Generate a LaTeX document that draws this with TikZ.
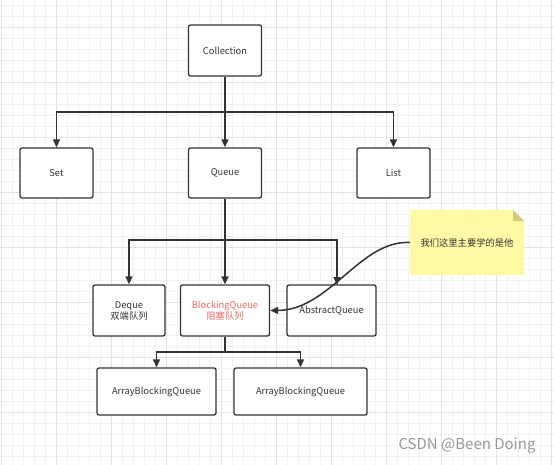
\documentclass[tikz,border=0pt]{standalone}
\usepackage{fontspec}
\setmainfont{Noto Sans CJK SC}
\usetikzlibrary{arrows.meta}
\definecolor{edge}{HTML}{333333}
\definecolor{txt}{HTML}{333333}
\definecolor{redtxt}{HTML}{EA6B66}
\definecolor{notefill}{HTML}{FFF9A6}
\definecolor{notefold}{HTML}{D2CC78}
\definecolor{gridminor}{HTML}{F1F1F1}
\definecolor{gridmajor}{HTML}{E4E4E4}
\tikzset{
  box/.style={draw=edge, line width=1.3pt, rounded corners=2pt, fill=white,
    text=txt, font=\fontsize{9.3}{11}\selectfont, align=center, inner sep=0pt},
  arr/.style={draw=edge, line width=1.3pt, -{Triangle[length=8pt,width=7pt]}},
  ln/.style={draw=edge, line width=1.3pt},
}
\begin{document}
\begin{tikzpicture}[x=1pt,y=-1pt]
\useasboundingbox (0,0) rectangle (554,465);
\fill[white] (0,0) rectangle (554,465);
% grid
\foreach \i in {0,...,50} {
  \pgfmathsetmacro{\gx}{1+11*\i}
  \draw[gridminor, line width=0.8pt] (\gx,0) -- (\gx,465);
}
\foreach \i in {0,...,42} {
  \pgfmathsetmacro{\gy}{5.3+11*\i}
  \draw[gridminor, line width=0.8pt] (0,\gy) -- (554,\gy);
}
\foreach \i in {0,...,10} {
  \pgfmathsetmacro{\gx}{1+55*\i}
  \draw[gridmajor, line width=0.8pt] (\gx,0) -- (\gx,465);
}
\foreach \i in {0,...,8} {
  \pgfmathsetmacro{\gy}{27.3+55*\i}
  \draw[gridmajor, line width=0.8pt] (0,\gy) -- (554,\gy);
}

% nodes
\node[box, minimum width=73pt, minimum height=51pt] (coll) at (225,50.5) {Collection};
\node[box, minimum width=73pt, minimum height=50pt] (set) at (56.5,173) {Set};
\node[box, minimum width=73pt, minimum height=50pt] (queue) at (225,173) {Queue};
\node[box, minimum width=73pt, minimum height=50pt] (list) at (393.5,173) {List};
\node[box, minimum width=72pt, minimum height=51pt] (deque) at (129,310.5) {Deque\\双端队列};
\node[box, minimum width=89pt, minimum height=51pt, text=redtxt] (bq) at (225,310.5) {BlockingQueue\\阻塞队列};
\node[box, minimum width=89pt, minimum height=51pt] (aq) at (331.5,310.5) {AbstractQueue};
\node[box, minimum width=119pt, minimum height=47pt] (abq1) at (156.5,391.5) {ArrayBlockingQueue};
\node[box, minimum width=133pt, minimum height=47pt] (abq2) at (300.5,391.5) {ArrayBlockingQueue};

% note
\fill[notefill] (410,210) -- (513,210) -- (524,221) -- (524,275) -- (410,275) -- cycle;
\fill[notefold] (513,210) -- (524,221) -- (513,221) -- cycle;
\node[text=txt, font=\fontsize{9.3}{11}\selectfont, minimum width=114pt, minimum height=65pt, inner sep=0pt] (note) at (467,242.5) {我们这里主要学的是他};

% connectors
\coordinate (j1) at (225,112);
\coordinate (j2) at (225,240);
\coordinate (j3) at (225,352);
\coordinate (aqin) at (337,285);
\draw[ln] (coll.south) -- (j1);
\draw[arr] (j1) -| (set.north);
\draw[arr] (j1) -| (list.north);
\draw[arr] (j1) -- (queue.north);
\draw[ln] (queue.south) -- (j2);
\draw[arr] (j2) -| (deque.north);
\draw[arr] (j2) -- (bq.north);
\draw[arr] (j2) -| (aqin);
\draw[ln] (bq.south) -- (j3);
\draw[arr] (j3) -| (abq1.north);
\draw[arr] (j3) -| (abq2.north);
\draw[arr, line width=1.5pt] (note.west) .. controls (360,240) and (330,310) .. (bq.east);

% watermark
\node[text=gray!80, font=\fontsize{15}{17}\selectfont, anchor=center, inner sep=0pt] (wm) at (467,446) {CSDN @Been Doing};
\end{tikzpicture}
\end{document}
